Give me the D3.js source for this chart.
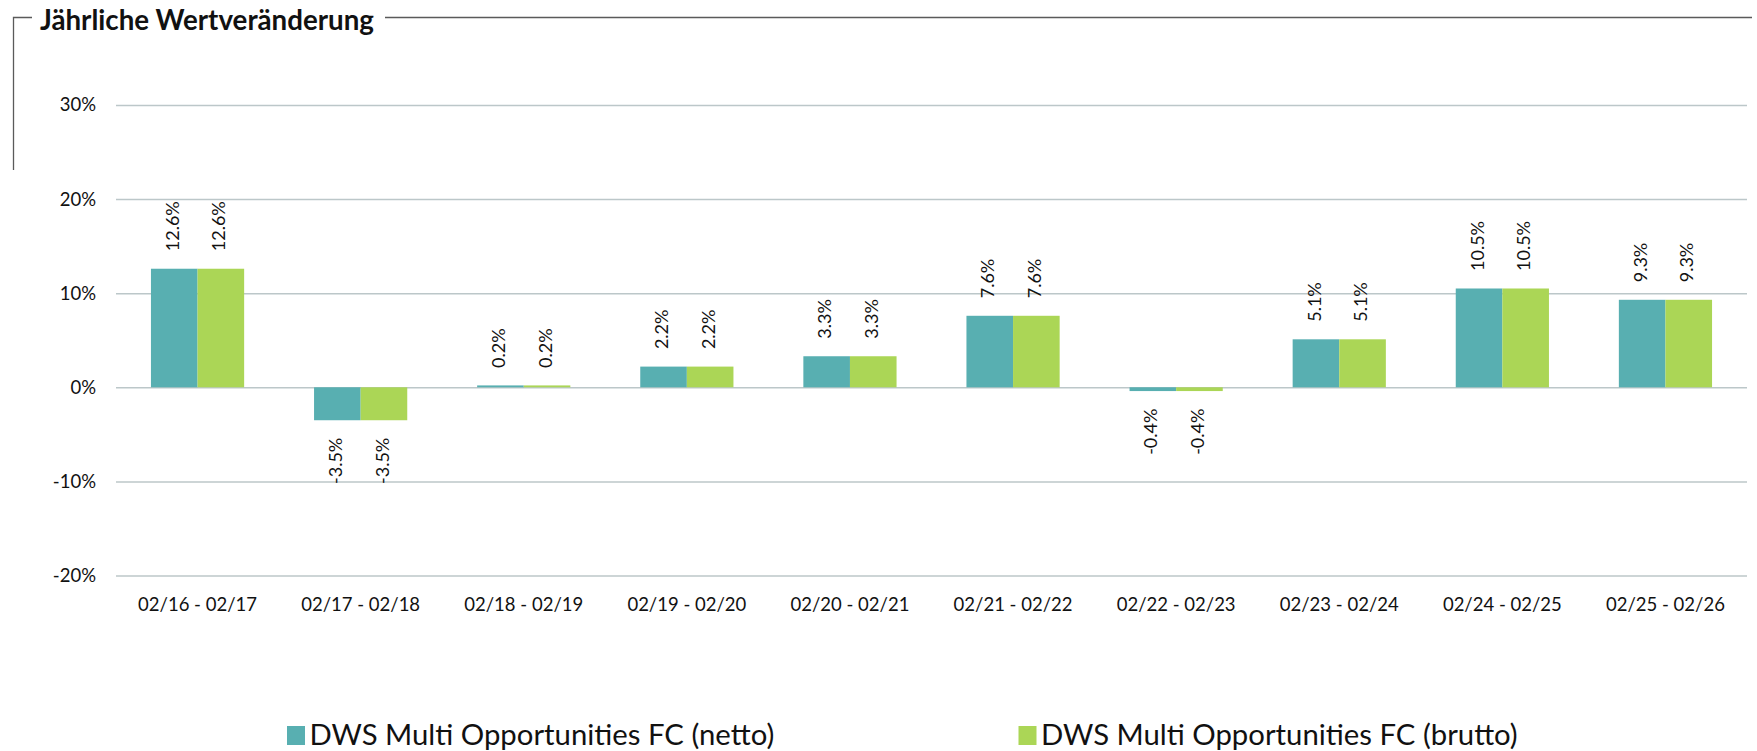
<!DOCTYPE html>
<html>
<head>
<meta charset="utf-8">
<script src="https://cdn.jsdelivr.net/npm/d3@7"></script>
<style>
  html, body { margin: 0; padding: 0; background: #fff; }
  svg { display: block; }
  text { font-family: Lato, "Open Sans", sans-serif; fill: #111; }
</style>
</head>
<body>
<svg id="chart" width="1757" height="751"></svg>
<script>
// Annual performance per 12-month period
const periods = ["02/16 - 02/17", "02/17 - 02/18", "02/18 - 02/19", "02/19 - 02/20", "02/20 - 02/21",
                 "02/21 - 02/22", "02/22 - 02/23", "02/23 - 02/24", "02/24 - 02/25", "02/25 - 02/26"];
const netto  = [12.6, -3.5, 0.2, 2.2, 3.3, 7.6, -0.4, 5.1, 10.5, 9.3];
const brutto = [12.6, -3.5, 0.2, 2.2, 3.3, 7.6, -0.4, 5.1, 10.5, 9.3];
const seriesNames = ["DWS Multi Opportunities FC (netto)", "DWS Multi Opportunities FC (brutto)"];
const yTicks = [-20, -10, 0, 10, 20, 30];
const titleText = "Jährliche Wertveränderung";

const colors = ["#58AFB1", "#ABD656"];
const svg = d3.select("#chart");

const plot = { left: 116, right: 1747, top: 105, bottom: 575.5 };

const x0 = d3.scaleBand()
  .domain(periods)
  .range([plot.left, plot.right])
  .paddingInner(1.5 / 3.5)
  .paddingOuter(0.75 / 3.5);

const x1 = d3.scaleBand()
  .domain([0, 1])
  .range([0, x0.bandwidth()]);

const y = d3.scaleLinear()
  .domain([-20, 30])
  .range([plot.bottom, plot.top]);

// Title frame (left and top edges around the heading)
svg.append("path")
  .attr("d", "M13.5,170 V17.5 H32")
  .attr("fill", "none").attr("stroke", "#5a5a5a").attr("stroke-width", 1.3);
svg.append("line")
  .attr("x1", 385).attr("x2", 1752).attr("y1", 17.5).attr("y2", 17.5)
  .attr("stroke", "#5a5a5a").attr("stroke-width", 1.3);
svg.append("text")
  .attr("x", 40).attr("y", 29.5)
  .style("font-weight", 700).style("font-size", "27.7px")
  .text(titleText);

// Gridlines and y labels
const yAxis = d3.axisLeft(y)
  .tickValues(yTicks)
  .tickSize(-(plot.right - plot.left))
  .tickPadding(20)
  .tickFormat(d => d + "%");
const gy = svg.append("g")
  .attr("transform", `translate(${plot.left},0)`)
  .call(yAxis);
gy.select(".domain").remove();
gy.selectAll(".tick line").attr("stroke", "#bcc7c9").attr("stroke-width", 1.5);
gy.selectAll(".tick text")
  .style("font-size", "18.5px").style("font-family", "Lato, sans-serif").attr("fill", "#111");

// Category labels
const xAxis = d3.axisBottom(x0).tickSize(0).tickPadding(0);
const gx = svg.append("g")
  .attr("transform", `translate(0,${plot.bottom})`)
  .call(xAxis);
gx.select(".domain").remove();
gx.selectAll(".tick text")
  .attr("dy", null).attr("y", 35.5)
  .style("font-size", "18.5px").style("font-family", "Lato, sans-serif").attr("fill", "#111");

// Bars
const rows = periods.map((p, i) => ({ period: p, values: [netto[i], brutto[i]] }));
const groups = svg.append("g").selectAll("g")
  .data(rows).join("g")
  .attr("transform", d => `translate(${x0(d.period)},0)`);

groups.selectAll("rect")
  .data(d => d.values.map((v, k) => ({ v, k })))
  .join("rect")
  .attr("x", d => x1(d.k))
  .attr("width", x1.bandwidth())
  .attr("y", d => y(Math.max(0, d.v)))
  .attr("height", d => Math.abs(y(d.v) - y(0)))
  .attr("fill", d => colors[d.k]);

// Rotated value labels outside the bar end
groups.selectAll("text.val")
  .data(d => d.values.map((v, k) => ({ v, k })))
  .join("text")
  .attr("class", "val")
  .attr("transform", d => {
    const cx = x1(d.k) + x1.bandwidth() / 2;
    const cy = d.v >= 0 ? y(d.v) - 17.5 : y(d.v) + 17.5;
    return `translate(${cx},${cy}) rotate(-90)`;
  })
  .attr("text-anchor", d => d.v >= 0 ? "start" : "end")
  .attr("dominant-baseline", "middle")
  .style("font-size", "18px")
  .text(d => d.v.toFixed(1) + "%");

// Legend
const legendX = [287, 1018.5];
const legend = svg.append("g").selectAll("g")
  .data(seriesNames).join("g")
  .attr("transform", (d, i) => `translate(${legendX[i]},726)`);
legend.append("rect")
  .attr("width", 18).attr("height", 19)
  .attr("fill", (d, i) => colors[i]);
legend.append("text")
  .attr("x", 22.5).attr("y", 19)
  .style("font-size", "29.3px")
  .text(d => d);
</script>
</body>
</html>
